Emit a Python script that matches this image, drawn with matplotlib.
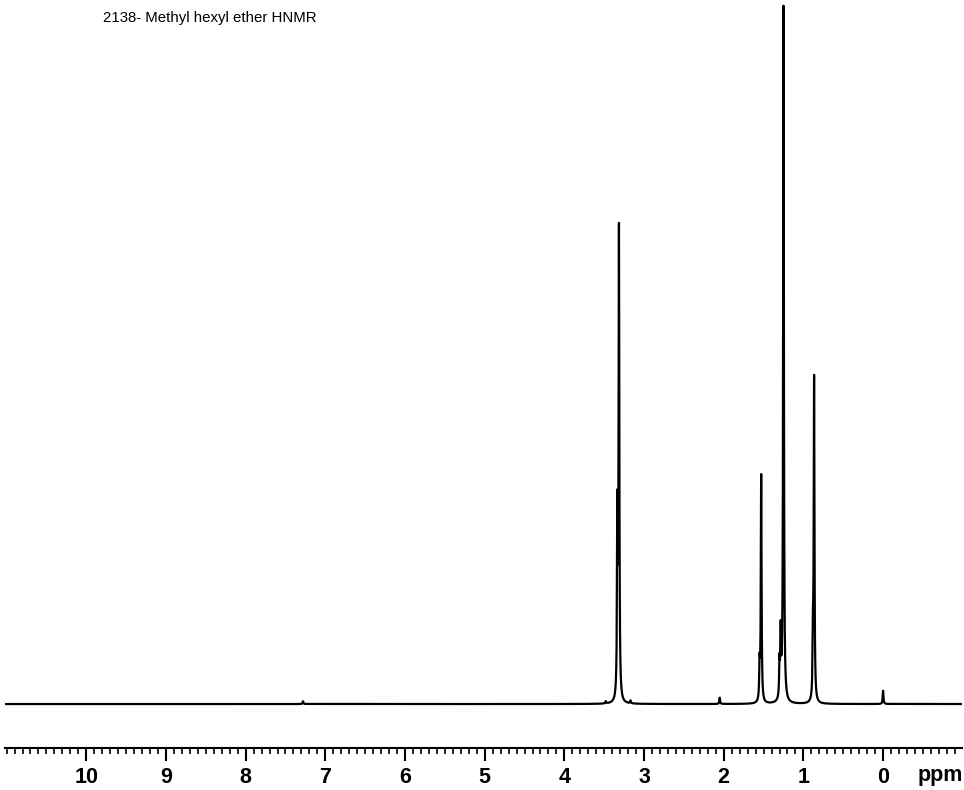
import matplotlib.pyplot as plt
import numpy as np
from matplotlib.ticker import MultipleLocator, FormatStrFormatter, FixedLocator

# Peak list (ppm, relative height, tallest = 100)
peak_ppm = [7.28, 3.48, 3.335, 3.315, 3.17, 2.05, 1.55, 1.53, 1.30, 1.285, 1.25, 0.88, 0.866, 0.0]
peak_height = [0.4, 0.3, 26.0, 67.0, 0.4, 0.9, 5.0, 32.5, 5.0, 9.0, 99.6, 8.0, 46.0, 1.9]
line_hw = 0.0055  # lorentzian half width (ppm)
major_ticks = [10, 9, 8, 7, 6, 5, 4, 3, 2, 1, 0]

title = '2138- Methyl hexyl ether HNMR'

# Build the trace from the peak list
ppm = np.arange(-1.0, 11.05, 0.0005)
signal = np.zeros_like(ppm)
for p, h in zip(peak_ppm, peak_height):
    signal += h / (1 + ((ppm - p) / line_hw) ** 2)

fig = plt.figure(figsize=(9.64, 7.9), dpi=100)
ax = fig.add_axes([5 / 964, 1 - 748 / 790, 957 / 964, 748 / 790])

ax.plot(ppm, signal, color='black', linewidth=1.6)

ax.set_xlim(11.02, -0.99)
ax.set_ylim(-6.29, 100.72)

for s in ['top', 'left', 'right']:
    ax.spines[s].set_visible(False)
ax.spines['bottom'].set_linewidth(1.5)
ax.set_yticks([])

ax.xaxis.set_major_locator(FixedLocator(major_ticks))
ax.xaxis.set_minor_locator(MultipleLocator(0.1))
ax.xaxis.set_major_formatter(FormatStrFormatter('%d'))
ax.tick_params(axis='x', which='major', direction='out', length=9, width=1.5, pad=5,
               labelsize=15.5)
ax.tick_params(axis='x', which='minor', direction='out', length=4, width=1.2)
for lab in ax.get_xticklabels():
    lab.set_fontfamily('Liberation Sans')
    lab.set_fontweight('bold')

fig.text(940 / 964, 1 - 776 / 790, 'ppm', ha='center', va='center', fontsize=15.5,
         fontweight='bold', family='Liberation Sans')
fig.text(103 / 964, 1 - 18 / 790, title, ha='left', va='center', fontsize=10.8,
         family='Liberation Sans')

fig.savefig('out.png', dpi=100)
